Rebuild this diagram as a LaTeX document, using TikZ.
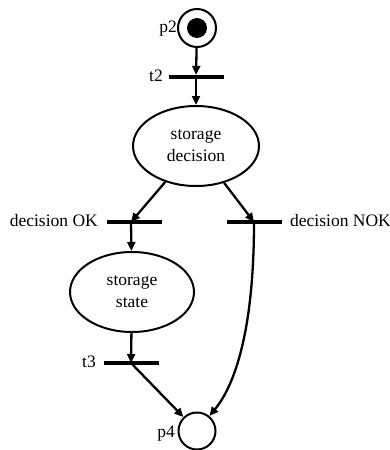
\documentclass[tikz,border=0pt]{standalone}
\usepackage{fontspec}
\setmainfont{Liberation Serif}
\usetikzlibrary{arrows.meta,shapes.geometric}
\begin{document}
\begin{tikzpicture}[x=1pt,y=-1pt,
 arc/.style={line width=2.3pt,-{Triangle[length=9pt,width=8pt]}},
 place/.style={circle,draw,line width=2pt,minimum size=38pt,inner sep=0pt},
 bar/.style={draw=none,fill=black,minimum width=55pt,minimum height=3.8pt,inner sep=0pt},
 statebox/.style={ellipse,draw,line width=2pt,minimum width=126pt,minimum height=80pt,align=center,inner sep=0pt,font=\fontsize{17.5}{22}\selectfont},
 lbl/.style={font=\fontsize{17.5}{20}\selectfont,inner sep=0pt}]
\useasboundingbox (0,0) rectangle (390,450);
% places
\node[place] (p2) at (197,28) {};
\node[circle,fill=black,minimum size=20pt,inner sep=0pt] (tok) at (p2.center) {};
\node[lbl,anchor=east] (lp2) at (177,29) {p2};
\node[place,minimum size=37pt] (p4) at (197,431) {};
\node[lbl,anchor=east] (lp4) at (175,434) {p4};
% transitions
\node[bar] (t2) at (196,77) {};
\node[lbl,anchor=east] (lt2) at (163,76) {t2};
\node[bar] (ok) at (134.5,222) {};
\coordinate (okc) at (131,222);
\node[lbl,anchor=east] (lok) at (98,221) {decision OK};
\node[bar] (nok) at (254.5,222) {};
\coordinate (nokc) at (254,222);
\node[lbl,anchor=west] (lnok) at (290,221) {decision NOK};
\node[bar] (t3) at (131.5,363) {};
\coordinate (t3c) at (131,363);
\node[lbl,anchor=east] (lt3) at (96,362) {t3};
% states
\node[statebox] (sd) at (196,146) {storage\\decision};
\node[statebox,minimum width=124pt] (ss) at (132,292) {storage\\state};
% arcs
\draw[arc] (p2) -- (t2);
\draw[arc] (t2) -- (sd);
\draw[arc] (sd) -- (okc);
\draw[arc] (sd) -- (nokc);
\draw[arc] (okc) -- (ss);
\draw[arc] (ss) -- (t3c);
\draw[arc] (t3c) -- (p4);
\draw[arc] (nokc) .. controls (254,330) and (235,385) .. (p4);
\end{tikzpicture}
\end{document}
